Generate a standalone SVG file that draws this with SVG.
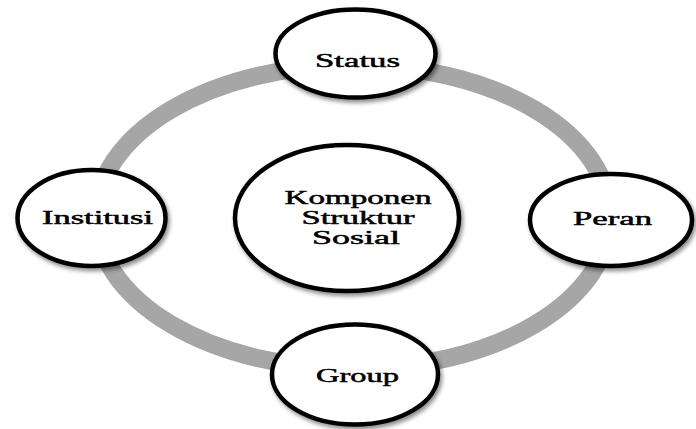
<svg xmlns="http://www.w3.org/2000/svg" width="696" height="429" viewBox="0 0 696 429">
<defs>
<filter id="sh" x="-20%" y="-20%" width="140%" height="140%">
<feDropShadow dx="2" dy="3" stdDeviation="2" flood-color="#000" flood-opacity="0.45"/>
</filter>
<style>
.node ellipse{fill:#fff;stroke:#000;stroke-width:4.5;filter:url(#sh)}
.node text{font-family:"Liberation Serif","Times New Roman",serif;font-size:19.5px;fill:#000;stroke:#000;stroke-width:0.5;text-anchor:middle}
.ring{fill:none;stroke:#a6a6a6;stroke-width:18}
</style>
</defs>
<rect width="696" height="429" fill="#fff"/>
<g id="connectors">
<ellipse class="ring" cx="353" cy="217" rx="257" ry="152"/>
</g>
<g id="center" class="node">
<ellipse cx="347" cy="218" rx="112" ry="73"/>
<text x="358" y="204" textLength="147" lengthAdjust="spacingAndGlyphs">Komponen</text>
<text x="358" y="224" textLength="113" lengthAdjust="spacingAndGlyphs">Struktur</text>
<text x="356" y="244" textLength="88" lengthAdjust="spacingAndGlyphs">Sosial</text>
</g>
<g id="status" class="node">
<ellipse cx="355.5" cy="53.5" rx="80" ry="44"/>
<text x="357.5" y="67" textLength="85" lengthAdjust="spacingAndGlyphs">Status</text>
</g>
<g id="peran" class="node">
<ellipse cx="611" cy="220" rx="81" ry="46"/>
<text x="612.5" y="225" textLength="79" lengthAdjust="spacingAndGlyphs">Peran</text>
</g>
<g id="group" class="node">
<ellipse cx="355" cy="374.5" rx="83" ry="50"/>
<text x="357.5" y="382" textLength="83" lengthAdjust="spacingAndGlyphs">Group</text>
</g>
<g id="institusi" class="node">
<ellipse cx="91.5" cy="218" rx="74" ry="48"/>
<text x="97.5" y="224" textLength="111" lengthAdjust="spacingAndGlyphs">Institusi</text>
</g>
</svg>
